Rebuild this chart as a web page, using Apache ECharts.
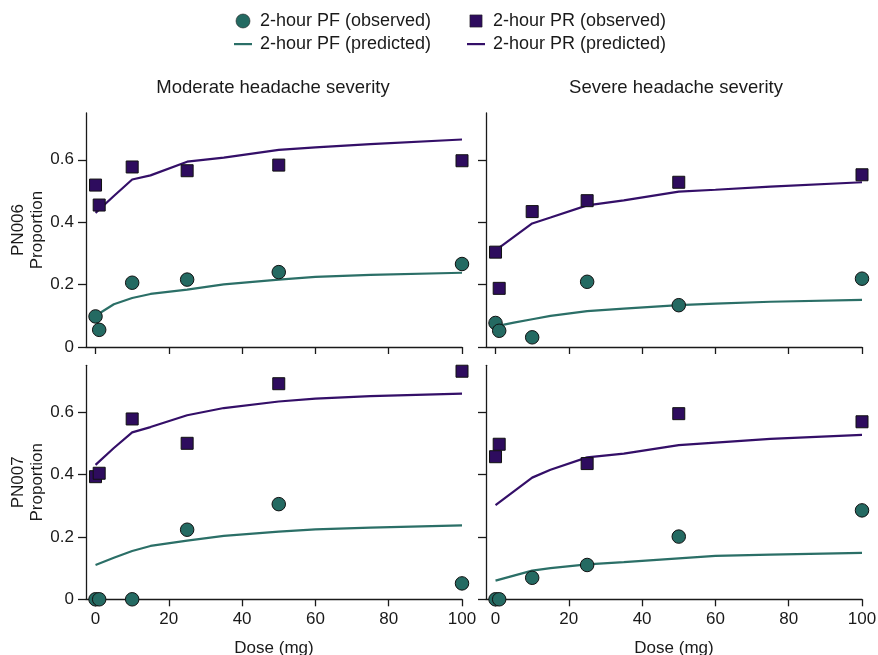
<!DOCTYPE html>
<html><head><meta charset="utf-8">
<script src="https://cdn.jsdelivr.net/npm/echarts@6/dist/echarts.min.js"></script>
<style>html,body{margin:0;padding:0;background:#fff}#c{width:878px;height:655px}</style>
</head><body><div id="c"></div>
<script>
// ---- data ----
const obsDose = [0, 1, 10, 25, 50, 100];
const predDose = [0, 5, 10, 15, 25, 35, 50, 60, 75, 100];
const xTicks = [0, 20, 40, 60, 80, 100];
const yTicks = [0, 0.2, 0.4, 0.6];
const colTitles = ['Moderate headache severity', 'Severe headache severity'];
const rowLabels = ['PN006\nProportion', 'PN007\nProportion'];
const seriesNames = ['2-hour PF (observed)', '2-hour PF (predicted)', '2-hour PR (observed)', '2-hour PR (predicted)'];

// PN006, moderate
const pn006ModPFobs = [0.098, 0.055, 0.206, 0.216, 0.240, 0.266];
const pn006ModPRobs = [0.519, 0.455, 0.577, 0.565, 0.583, 0.597];
const pn006ModPFpred = [0.100, 0.137, 0.157, 0.170, 0.184, 0.201, 0.216, 0.225, 0.231, 0.238];
const pn006ModPRpred = [0.430, 0.484, 0.537, 0.550, 0.594, 0.607, 0.632, 0.640, 0.650, 0.665];
// PN006, severe
const pn006SevPFobs = [0.077, 0.052, 0.031, 0.209, 0.134, 0.219];
const pn006SevPRobs = [0.304, 0.188, 0.434, 0.469, 0.528, 0.552];
const pn006SevPFpred = [0.066, 0.078, 0.089, 0.100, 0.115, 0.123, 0.134, 0.139, 0.145, 0.151];
const pn006SevPRpred = [0.310, 0.353, 0.396, 0.415, 0.454, 0.470, 0.498, 0.504, 0.514, 0.528];
// PN007, moderate
const pn007ModPFobs = [0, 0, 0, 0.223, 0.305, 0.051];
const pn007ModPRobs = [0.393, 0.404, 0.578, 0.500, 0.691, 0.731];
const pn007ModPFpred = [0.110, 0.133, 0.155, 0.171, 0.188, 0.203, 0.217, 0.224, 0.230, 0.237];
const pn007ModPRpred = [0.431, 0.485, 0.535, 0.552, 0.590, 0.613, 0.634, 0.643, 0.651, 0.659];
// PN007, severe
const pn007SevPFobs = [0, 0, 0.069, 0.110, 0.201, 0.285];
const pn007SevPRobs = [0.457, 0.497, null, 0.435, 0.595, 0.569];
const pn007SevPFpred = [0.060, 0.076, 0.092, 0.100, 0.112, 0.119, 0.131, 0.139, 0.143, 0.149];
const pn007SevPRpred = [0.302, 0.346, 0.390, 0.415, 0.455, 0.467, 0.494, 0.502, 0.514, 0.527];

const panels = [
  {pf: pn006ModPFobs, pr: pn006ModPRobs, pfp: pn006ModPFpred, prp: pn006ModPRpred},
  {pf: pn006SevPFobs, pr: pn006SevPRobs, pfp: pn006SevPFpred, prp: pn006SevPRpred},
  {pf: pn007ModPFobs, pr: pn007ModPRobs, pfp: pn007ModPFpred, prp: pn007ModPRpred},
  {pf: pn007SevPFobs, pr: pn007SevPRobs, pfp: pn007SevPFpred, prp: pn007SevPRpred}
];

// ---- style ----
const TEAL = '#246a62', TEAL_LINE = '#2b6f67';
const PURPLE = '#2e0c5e', PURPLE_LINE = '#340f68';
const INK = '#1a1a1a';
const FONT = '"Liberation Sans", Arial, Helvetica, sans-serif';

const pair = (xs, ys) => xs.map((x, i) => [x, ys[i]]).filter(p => p[1] !== null && p[1] !== undefined);

const grids = [], xAxes = [], yAxes = [], series = [];
const gLeft = [86, 486], gTop = [113, 365.3];
for (let r = 0; r < 2; r++) {
  for (let c = 0; c < 2; c++) {
    const k = r * 2 + c;
    grids.push({left: gLeft[c], top: gTop[r], width: 376, height: 234, containLabel: false, outerBoundsMode: 'none'});
    xAxes.push({
      type: 'value', gridIndex: k, min: -2.6, max: 100,
      splitLine: {show: false},
      axisLine: {onZero: false, lineStyle: {color: INK, width: 1.3}},
      axisTick: {show: true, length: 7, lineStyle: {color: INK, width: 1.3}, customValues: xTicks},
      axisLabel: {show: r === 1, customValues: xTicks, margin: 12, fontSize: 17, color: INK, fontFamily: FONT},
      name: r === 1 ? 'Dose (mg)' : '', nameLocation: 'middle', nameGap: 41,
      nameTextStyle: {fontSize: 17, color: INK, fontFamily: FONT}
    });
    yAxes.push({
      type: 'value', gridIndex: k, min: 0, max: 0.75,
      splitLine: {show: false},
      axisLine: {show: true, onZero: false, lineStyle: {color: INK, width: 1.3}},
      axisTick: {show: true, length: 8, lineStyle: {color: INK, width: 1.3}, customValues: yTicks},
      axisLabel: {show: c === 0, customValues: yTicks, margin: 12, fontSize: 17, color: INK, fontFamily: FONT},
      name: c === 0 ? rowLabels[r] : '', nameLocation: 'middle', nameRotate: 90, nameGap: 39,
      nameTextStyle: {fontSize: 17, lineHeight: 19, color: INK, fontFamily: FONT}
    });
    const p = panels[k];
    series.push({
      name: seriesNames[1], type: 'line', xAxisIndex: k, yAxisIndex: k,
      data: pair(predDose, p.pfp), symbol: 'none', z: 2,
      lineStyle: {color: TEAL_LINE, width: 2.2}, itemStyle: {color: TEAL_LINE}
    });
    series.push({
      name: seriesNames[3], type: 'line', xAxisIndex: k, yAxisIndex: k,
      data: pair(predDose, p.prp), symbol: 'none', z: 2,
      lineStyle: {color: PURPLE_LINE, width: 2.2}, itemStyle: {color: PURPLE_LINE}
    });
    series.push({
      name: seriesNames[0], type: 'scatter', xAxisIndex: k, yAxisIndex: k,
      data: pair(obsDose, p.pf), symbol: 'circle', symbolSize: 13.5, z: 4, clip: false,
      itemStyle: {color: TEAL, borderColor: '#111', borderWidth: 1, opacity: 1}
    });
    series.push({
      name: seriesNames[2], type: 'scatter', xAxisIndex: k, yAxisIndex: k,
      data: pair(obsDose, p.pr), symbol: 'square', symbolSize: 12, z: 4, clip: false,
      itemStyle: {color: PURPLE, borderColor: '#111', borderWidth: 1, opacity: 1}
    });
  }
}

const LINE_ICON = 'path://M0,6L18,6L18,8.2L0,8.2Z M0,0 M18,14';
const legendText = {fontSize: 18, color: INK, fontFamily: FONT, lineHeight: 18, padding: [0, 0, 0, 3]};
const legendCommon = {
  orient: 'vertical', top: 12, padding: 0, itemWidth: 18, itemHeight: 14, itemGap: 5,
  textStyle: legendText, selectedMode: false,
  itemStyle: {borderWidth: 0.6, borderColor: '#222'}
};
const option = {
  animation: false,
  backgroundColor: '#fff',
  textStyle: {fontFamily: FONT},
  legend: [
    Object.assign({left: 234, data: [
      {name: seriesNames[0], icon: 'circle'},
      {name: seriesNames[1], icon: LINE_ICON, itemStyle: {color: TEAL_LINE, borderWidth: 0}}
    ]}, legendCommon),
    Object.assign({left: 467, data: [
      {name: seriesNames[2], icon: 'path://M2.5,1L15.5,1L15.5,14L2.5,14Z M0,0 M18,15'},
      {name: seriesNames[3], icon: LINE_ICON, itemStyle: {color: PURPLE_LINE, borderWidth: 0}}
    ]}, legendCommon)
  ],
  graphic: colTitles.map((t, c) => ({
    type: 'text', x: [273, 676][c], y: 88,
    style: {text: t, align: 'center', verticalAlign: 'middle', fontSize: 18.5, fontFamily: FONT, fill: INK}
  })),
  grid: grids, xAxis: xAxes, yAxis: yAxes, series: series
};
const chart = echarts.init(document.getElementById('c'), null, {renderer: 'canvas'});
chart.setOption(option);
</script></body></html>
